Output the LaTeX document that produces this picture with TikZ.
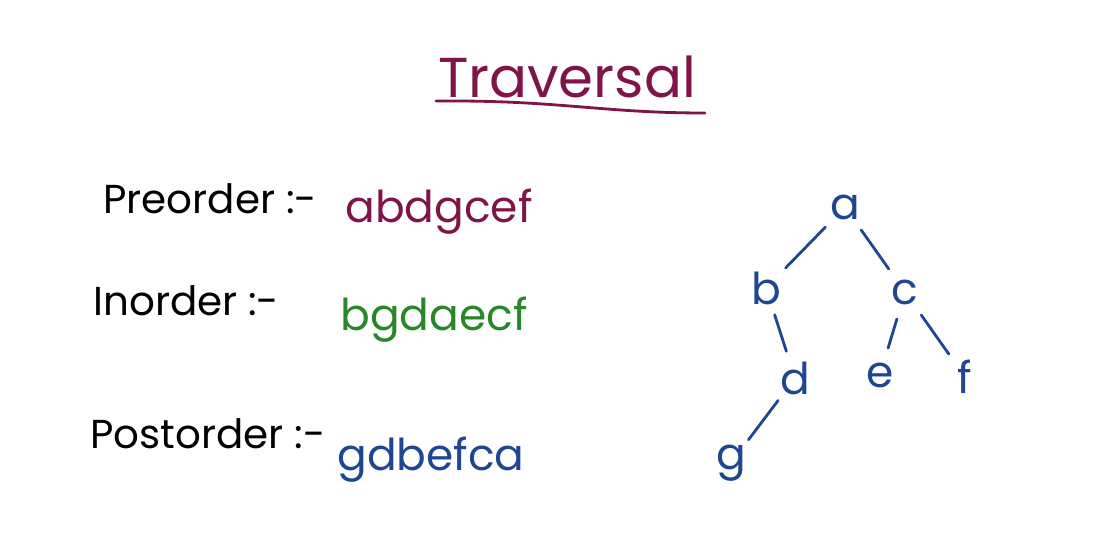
\documentclass[tikz,border=0pt]{standalone}
\usepackage{fontspec}
\setmainfont{Poppins}
\usetikzlibrary{positioning}
\definecolor{TitleRed}{RGB}{128,20,70}
\definecolor{InGreen}{RGB}{40,135,40}
\definecolor{PostBlue}{RGB}{30,70,145}

\begin{document}
\begin{tikzpicture}[x=0.02cm, y=-0.02cm,
	lab/.style={font=\fontsize{23}{27}\selectfont, anchor=base west, inner sep=0pt},
	seq/.style={font=\fontsize{25}{30}\selectfont, anchor=base west, inner sep=0pt},
	vtx/.style={circle, minimum size=0.9cm, inner sep=0pt, text=PostBlue, font=\fontsize{25}{30}\selectfont},
	edge/.style={draw=PostBlue, line width=1.6pt, line cap=round, shorten >=3pt, shorten <=3pt}]
	\useasboundingbox (0,0) rectangle (1094,558);
	% title
	\node[font=\fontsize{32}{36}\selectfont, text=TitleRed, anchor=base, inner sep=0pt] (title) at (567,97) {Traversal};
	\draw[TitleRed, line width=1.6pt, line cap=round] (436,101) .. controls (560,100) and (600,113) .. (705,113);
	% the three orders
	\node[lab] (pre) at (103,213) {Preorder :-};
	\node[lab] (in) at (93,315) {Inorder :-};
	\node[lab] (post) at (90,448) {Postorder :-};
	\node[seq, text=TitleRed] (preseq) at (345,222) {abdgcef};
	\node[seq, text=InGreen] (inseq) at (340,330) {bgdaecf};
	\node[seq, text=PostBlue] (postseq) at (337,470) {gdbefca};
	% the tree
	\foreach \n/\x/\y in {a/845/207, b/766/288, c/905/292, d/795/378, e/880/375, f/965/377, g/731/463}
		\node[vtx] (\n) at (\x,\y) {\n};
	\foreach \u/\v in {a/b, a/c, b/d, c/e, c/f, d/g}
		\draw[edge] (\u) -- (\v);
\end{tikzpicture}
\end{document}
